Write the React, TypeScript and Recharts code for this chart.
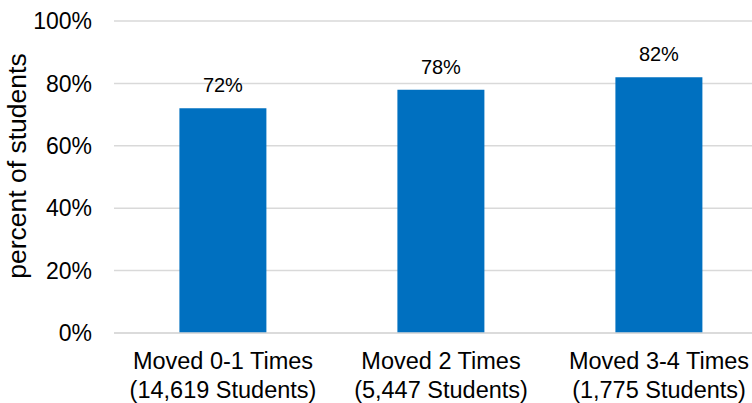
import { BarChart, Bar, XAxis, YAxis, CartesianGrid, LabelList } from 'recharts';

const categories = ['Moved 0-1 Times', 'Moved 2 Times', 'Moved 3-4 Times'];
const studentCounts = ['(14,619 Students)', '(5,447 Students)', '(1,775 Students)'];
const percents = [72, 78, 82];
const yTicks = [0, 20, 40, 60, 80, 100];

const data = categories.map((name, i) => ({ name, count: studentCounts[i], value: percents[i] }));

const FONT = '"Liberation Sans", Arial, sans-serif';

function CategoryTick({ x, y, payload, index }: any) {
  return (
    <text x={x} y={y} textAnchor="middle" fontFamily={FONT} fontSize={23.5} fill="#000">
      <tspan x={x} dy={36}>{payload.value}</tspan>
      <tspan x={x} dy={29}>{studentCounts[index]}</tspan>
    </text>
  );
}

function YTitle() {
  return (
    <text
      x={17}
      y={166}
      transform="rotate(-90, 17, 166)"
      textAnchor="middle"
      dominantBaseline="central"
      fontFamily={FONT}
      fontSize={26.5}
      fill="#000"
    >
      percent of students
    </text>
  );
}

export default function App() {
  return (
    <div style={{ position: 'absolute', left: 0, top: 0, width: 752, height: 403, overflow: 'hidden', background: '#fff' }}>
      <BarChart width={770} height={403} data={data} margin={{ top: 21, right: 2, bottom: 0, left: 0 }} barCategoryGap="30%">
        <CartesianGrid vertical={false} stroke="#d9d9d9" strokeWidth={1.5} />
        <XAxis
          dataKey="name"
          height={70}
          tick={<CategoryTick />}
          tickLine={false}
          tickSize={0}
          tickMargin={0}
          axisLine={{ stroke: '#d9d9d9', strokeWidth: 1.5 }}
          interval={0}
        />
        <YAxis
          width={114}
          domain={[0, 100]}
          ticks={yTicks}
          tickFormatter={(v) => `${v}%`}
          tickLine={false}
          axisLine={false}
          tickSize={0}
          tickMargin={22}
          tick={{ fontFamily: FONT, fontSize: 23, fill: '#000' }}
          label={{ content: () => <YTitle /> }}
        />
        <Bar dataKey="value" fill="#0070c0" isAnimationActive={false}>
          <LabelList
            dataKey="value"
            position="top"
            offset={16}
            formatter={(v: any) => `${v}%`}
            style={{ fontFamily: FONT, fontSize: 20, fill: '#000' }}
          />
        </Bar>
      </BarChart>
    </div>
  );
}
